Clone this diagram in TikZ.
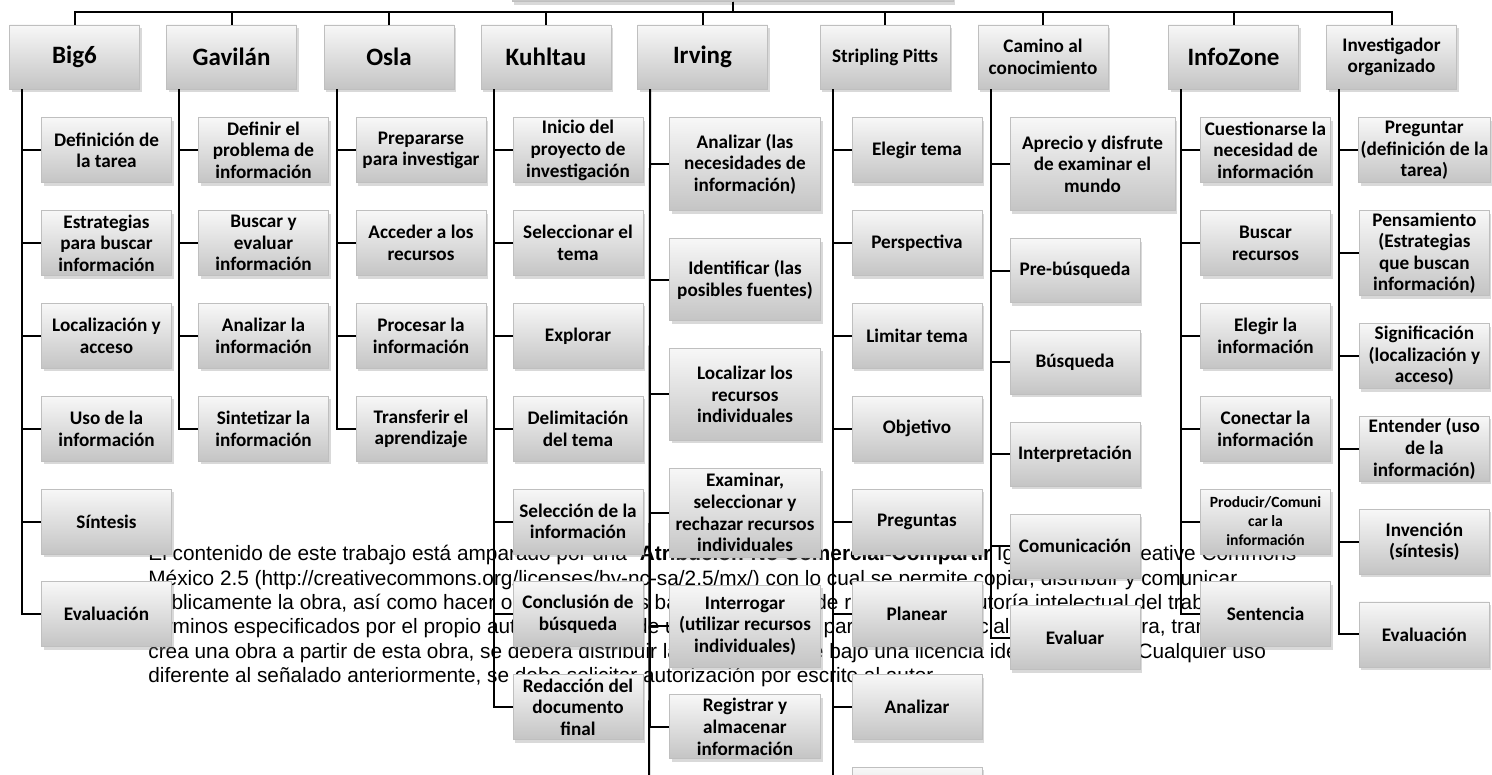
\documentclass[tikz,border=0pt]{standalone}
\usepackage{fontspec}
\setmainfont{Carlito}
\newfontfamily\licfont{Liberation Sans}
\usetikzlibrary{positioning, shadows}

\tikzset{
    hdrbox/.style={
        rectangle,
        draw=black!25,
        top color=black!3,
        bottom color=black!23,
        align=center,
        inner sep=1pt,
        minimum width=65pt,
        minimum height=32pt,
        font=\bfseries\fontsize{12.5}{14}\selectfont,
        drop shadow={shadow xshift=1pt, shadow yshift=-1.5pt, opacity=0.3}
    },
    smallhdr/.style={
        hdrbox,
        font=\bfseries\fontsize{9.6}{10.8}\selectfont
    },
    kidbox/.style={
        hdrbox,
        minimum height=32.5pt,
        font=\bfseries\fontsize{9.6}{10.8}\selectfont
    },
    widebox/.style={
        kidbox,
        minimum width=75.5pt
    },
    conn/.style={draw, line width=1pt}
}

\begin{document}
\begin{tikzpicture}[x=0.5pt, y=-0.5pt, node distance=13.5pt]
\useasboundingbox (0,0) rectangle (1492,775);
\clip (0,0) rectangle (1492,775);

% Licence text, behind the chart
\node[anchor=north west, inner sep=0pt, align=left,
      font=\licfont\fontsize{10.4}{12.2}\selectfont] (lic) at (148,545) {%
El contenido de este trabajo está amparado por una “\textbf{Atribución-No Comercial-Compartir} Igual 2.5” de Creative Commons\\
México 2.5 (http://creativecommons.org/licenses/by-nc-sa/2.5/mx/) con lo cual se permite copiar, distribuir y comunicar\\
públicamente la obra, así como hacer obras derivadas bajo la condición de reconocer la autoría intelectual del trabajo en los\\
términos especificados por el propio autor, no se puede utilizar esta obra para fines comerciales, y si se altera, transforma o\\
crea una obra a partir de esta obra, se deberá distribuir la obra resultante bajo una licencia idéntica a ésta. Cualquier uso\\
diferente al señalado anteriormente, se debe solicitar autorización por escrito al autor.};

% Root (cut off at the top)
\node[hdrbox, minimum width=220.5pt, anchor=south] (root) at (732.5,2) {};

% Models
\node[hdrbox] (big6) at (74.5,57) {Big6};
\node[hdrbox] (gavilan) at (231.5,57) {Gavilán};
\node[hdrbox] (osla) at (389,57) {Osla};
\node[hdrbox] (kuhltau) at (546,57) {Kuhltau};
\node[hdrbox] (irving) at (702.5,57) {Irving};
\node[smallhdr] (pitts) at (885,57) {Stripling Pitts};
\node[smallhdr] (camino) at (1043,57) {Camino al\\conocimiento};
\node[hdrbox] (infozone) at (1233.5,57) {InfoZone};
\node[smallhdr] (investigador) at (1391.5,57) {Investigador\\organizado};

% Big6
\node[kidbox, below=14pt of big6.south west, anchor=north west, xshift=16pt] (b1) {Definición de\\la tarea};
\node[kidbox, below=of b1] (b2) {Estrategias\\para buscar\\información};
\node[kidbox, below=of b2] (b3) {Localización y\\acceso};
\node[kidbox, below=of b3] (b4) {Uso de la\\información};
\node[kidbox, below=of b4] (b5) {Síntesis};
\node[kidbox, below=of b5] (b6) {Evaluación};

% Gavilan
\node[kidbox, below=14pt of gavilan.south west, anchor=north west, xshift=16pt] (g1) {Definir el\\problema de\\información};
\node[kidbox, below=of g1] (g2) {Buscar y\\evaluar\\información};
\node[kidbox, below=of g2] (g3) {Analizar la\\información};
\node[kidbox, below=of g3] (g4) {Sintetizar la\\información};

% Osla
\node[kidbox, below=14pt of osla.south west, anchor=north west, xshift=16pt] (o1) {Prepararse\\para investigar};
\node[kidbox, below=of o1] (o2) {Acceder a los\\recursos};
\node[kidbox, below=of o2] (o3) {Procesar la\\información};
\node[kidbox, below=of o3] (o4) {Transferir el\\aprendizaje};

% Kuhltau
\node[kidbox, below=14pt of kuhltau.south west, anchor=north west, xshift=16pt] (k1) {Inicio del\\proyecto de\\investigación};
\node[kidbox, below=of k1] (k2) {Seleccionar el\\tema};
\node[kidbox, below=of k2] (k3) {Explorar};
\node[kidbox, below=of k3] (k4) {Delimitación\\del tema};
\node[kidbox, below=of k4] (k5) {Selección de la\\información};
\node[kidbox, below=of k5] (k6) {Conclusión de\\búsqueda};
\node[kidbox, below=of k6] (k7) {Redacción del\\documento\\final};

% Irving
\node[widebox, minimum height=46.5pt, below=14pt of irving.south west, anchor=north west, xshift=16pt] (i1) {Analizar (las\\necesidades de\\información)};
\node[widebox, minimum height=41pt, below=of i1] (i2) {Identificar (las\\posibles fuentes)};
\node[widebox, minimum height=46pt, below=of i2] (i3) {Localizar los\\recursos\\individuales};
\node[widebox, minimum height=44.5pt, below=of i3] (i4) {Examinar,\\seleccionar y\\rechazar recursos\\individuales};
\node[widebox, minimum height=41pt, below=of i4] (i5) {Interrogar\\(utilizar recursos\\individuales)};
\node[widebox, minimum height=32pt, below=of i5] (i6) {Registrar y\\almacenar\\información};
\coordinate[below=20pt of i6.south west, xshift=-10pt] (iend);

% Stripling Pitts
\node[kidbox, below=14pt of pitts.south west, anchor=north west, xshift=16pt] (p1) {Elegir tema};
\node[kidbox, below=of p1] (p2) {Perspectiva};
\node[kidbox, below=of p2] (p3) {Limitar tema};
\node[kidbox, below=of p3] (p4) {Objetivo};
\node[kidbox, below=of p4] (p5) {Preguntas};
\node[kidbox, below=of p5] (p6) {Planear};
\node[kidbox, below=of p6] (p7) {Analizar};
\node[kidbox, below=of p7] (p8) {};

% Camino al conocimiento
\node[kidbox, minimum width=82.5pt, minimum height=46.5pt, below=14pt of camino.south west, anchor=north west, xshift=16pt] (c1) {Aprecio y disfrute\\de examinar el\\mundo};
\node[kidbox, minimum height=32pt, below=of c1.south west, anchor=north west] (c2) {Pre-búsqueda};
\node[kidbox, minimum height=32pt, below=of c2] (c3) {Búsqueda};
\node[kidbox, minimum height=32pt, below=of c3] (c4) {Interpretación};
\node[kidbox, minimum height=32pt, below=of c4] (c5) {Comunicación};
\node[kidbox, minimum height=32pt, below=of c5] (c6) {Evaluar};

% InfoZone
\node[kidbox, below=14pt of infozone.south west, anchor=north west, xshift=16pt] (z1) {Cuestionarse la\\necesidad de\\información};
\node[kidbox, below=of z1] (z2) {Buscar\\recursos};
\node[kidbox, below=of z2] (z3) {Elegir la\\información};
\node[kidbox, below=of z3] (z4) {Conectar la\\información};
\node[kidbox, below=of z4, font=\bfseries\fontsize{7.8}{9.5}\selectfont] (z5) {Producir/Comuni\\car la\\información};
\node[kidbox, below=of z5] (z6) {Sentencia};

% Investigador organizado
\node[kidbox, below=14pt of investigador.south west, anchor=north west, xshift=16pt] (v1) {Preguntar\\(definición de la\\tarea)};
\node[kidbox, minimum height=40.5pt, below=of v1] (v2) {Pensamiento\\(Estrategias\\que buscan\\información)};
\node[kidbox, below=of v2] (v3) {Significación\\(localización y\\acceso)};
\node[kidbox, below=of v3] (v4) {Entender (uso\\de la\\información)};
\node[kidbox, below=of v4] (v5) {Invención\\(síntesis)};
\node[kidbox, below=of v5] (v6) {Evaluación};

% Root to models
\draw[conn] (root.south) -- ++(0,-5pt) -| (big6.north);
\draw[conn] (root.south) -- ++(0,-5pt) -| (gavilan.north);
\draw[conn] (root.south) -- ++(0,-5pt) -| (osla.north);
\draw[conn] (root.south) -- ++(0,-5pt) -| (kuhltau.north);
\draw[conn] (root.south) -- ++(0,-5pt) -| (irving.north);
\draw[conn] (root.south) -- ++(0,-5pt) -| (pitts.north);
\draw[conn] (root.south) -- ++(0,-5pt) -| (camino.north);
\draw[conn] (root.south) -- ++(0,-5pt) -| (infozone.north);
\draw[conn] (root.south) -- ++(0,-5pt) -| (investigador.north);

% Models to steps
\draw[conn] ([xshift=6.5pt]big6.south west) |- (b1.west);
\draw[conn] ([xshift=6.5pt]big6.south west) |- (b2.west);
\draw[conn] ([xshift=6.5pt]big6.south west) |- (b3.west);
\draw[conn] ([xshift=6.5pt]big6.south west) |- (b4.west);
\draw[conn] ([xshift=6.5pt]big6.south west) |- (b5.west);
\draw[conn] ([xshift=6.5pt]big6.south west) |- (b6.west);

\draw[conn] ([xshift=6.5pt]gavilan.south west) |- (g1.west);
\draw[conn] ([xshift=6.5pt]gavilan.south west) |- (g2.west);
\draw[conn] ([xshift=6.5pt]gavilan.south west) |- (g3.west);
\draw[conn] ([xshift=6.5pt]gavilan.south west) |- (g4.west);

\draw[conn] ([xshift=6.5pt]osla.south west) |- (o1.west);
\draw[conn] ([xshift=6.5pt]osla.south west) |- (o2.west);
\draw[conn] ([xshift=6.5pt]osla.south west) |- (o3.west);
\draw[conn] ([xshift=6.5pt]osla.south west) |- (o4.west);

\draw[conn] ([xshift=6.5pt]kuhltau.south west) |- (k1.west);
\draw[conn] ([xshift=6.5pt]kuhltau.south west) |- (k2.west);
\draw[conn] ([xshift=6.5pt]kuhltau.south west) |- (k3.west);
\draw[conn] ([xshift=6.5pt]kuhltau.south west) |- (k4.west);
\draw[conn] ([xshift=6.5pt]kuhltau.south west) |- (k5.west);
\draw[conn] ([xshift=6.5pt]kuhltau.south west) |- (k6.west);
\draw[conn] ([xshift=6.5pt]kuhltau.south west) |- (k7.west);

\draw[conn] ([xshift=6.5pt]irving.south west) |- (i1.west);
\draw[conn] ([xshift=6.5pt]irving.south west) |- (i2.west);
\draw[conn] ([xshift=6.5pt]irving.south west) |- (i3.west);
\draw[conn] ([xshift=6.5pt]irving.south west) |- (i4.west);
\draw[conn] ([xshift=6.5pt]irving.south west) |- (i5.west);
\draw[conn] ([xshift=6.5pt]irving.south west) |- (i6.west);
\draw[conn] ([xshift=6.5pt]irving.south west) -- (iend);

\draw[conn] ([xshift=6.5pt]pitts.south west) |- (p1.west);
\draw[conn] ([xshift=6.5pt]pitts.south west) |- (p2.west);
\draw[conn] ([xshift=6.5pt]pitts.south west) |- (p3.west);
\draw[conn] ([xshift=6.5pt]pitts.south west) |- (p4.west);
\draw[conn] ([xshift=6.5pt]pitts.south west) |- (p5.west);
\draw[conn] ([xshift=6.5pt]pitts.south west) |- (p6.west);
\draw[conn] ([xshift=6.5pt]pitts.south west) |- (p7.west);
\draw[conn] ([xshift=6.5pt]pitts.south west) |- (p8.west);

\draw[conn] ([xshift=6.5pt]camino.south west) |- (c1.west);
\draw[conn] ([xshift=6.5pt]camino.south west) |- (c2.west);
\draw[conn] ([xshift=6.5pt]camino.south west) |- (c3.west);
\draw[conn] ([xshift=6.5pt]camino.south west) |- (c4.west);
\draw[conn] ([xshift=6.5pt]camino.south west) |- (c5.west);
\draw[conn] ([xshift=6.5pt]camino.south west) |- (c6.west);

\draw[conn] ([xshift=6.5pt]infozone.south west) |- (z1.west);
\draw[conn] ([xshift=6.5pt]infozone.south west) |- (z2.west);
\draw[conn] ([xshift=6.5pt]infozone.south west) |- (z3.west);
\draw[conn] ([xshift=6.5pt]infozone.south west) |- (z4.west);
\draw[conn] ([xshift=6.5pt]infozone.south west) |- (z5.west);
\draw[conn] ([xshift=6.5pt]infozone.south west) |- (z6.west);

\draw[conn] ([xshift=6.5pt]investigador.south west) |- (v1.west);
\draw[conn] ([xshift=6.5pt]investigador.south west) |- (v2.west);
\draw[conn] ([xshift=6.5pt]investigador.south west) |- (v3.west);
\draw[conn] ([xshift=6.5pt]investigador.south west) |- (v4.west);
\draw[conn] ([xshift=6.5pt]investigador.south west) |- (v5.west);
\draw[conn] ([xshift=6.5pt]investigador.south west) |- (v6.west);

\end{tikzpicture}
\end{document}
